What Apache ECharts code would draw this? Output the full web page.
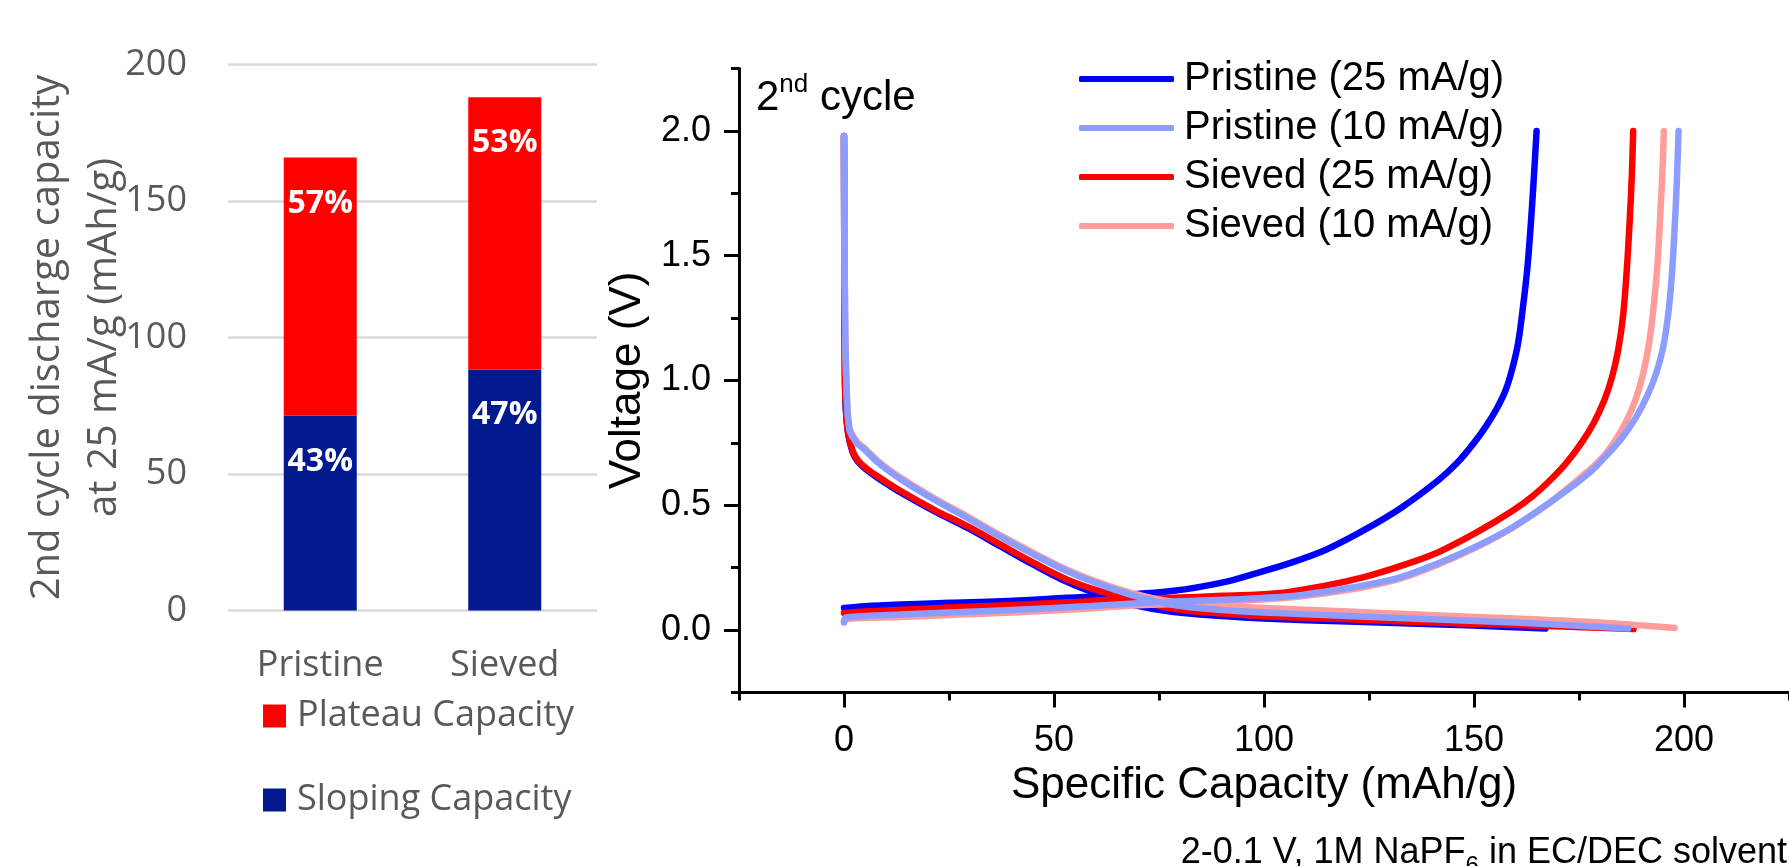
<!DOCTYPE html>
<html>
<head>
<meta charset="utf-8">
<title>Discharge capacity and 2nd-cycle voltage profiles</title>
<script src="https://cdn.jsdelivr.net/npm/echarts@6/dist/echarts.min.js"></script>
<style>
  html, body { margin: 0; padding: 0; background: #ffffff; }
  #chart { width: 1789px; height: 866px; }
</style>
</head>
<body>
<div id="chart"></div>
<script>
// ---- Bar panel: 2nd cycle discharge capacity at 25 mA/g ----
const barCategories = ['Pristine', 'Sieved'];
const totalCapacity = [166, 188];          // mAh/g
const slopingPercent = [43, 47];           // % of total
const plateauPercent = [57, 53];           // % of total
const capacityTicks = [0, 50, 100, 150, 200];

// ---- Voltage profiles: [specific capacity (mAh/g), voltage (V)] ----
const pristine25Discharge = [
  [0, 1.98], [0.05, 1.6], [0.15, 1.2], [0.3, 0.94], [0.9, 0.795], [2, 0.715], [3.3, 0.675],
  [5.5, 0.64], [8, 0.61], [13.6, 0.55], [21.5, 0.476], [29.4, 0.409], [37.3, 0.335],
  [45.2, 0.261], [53.2, 0.192], [61.1, 0.14], [69, 0.1], [78.5, 0.072], [90, 0.056],
  [100, 0.046], [120, 0.034], [135, 0.026], [150, 0.018], [167, 0.006]
];
const pristine25Charge = [
  [0, 0.088], [5, 0.095], [13.6, 0.102], [25, 0.109], [37.3, 0.115], [53.2, 0.129],
  [65, 0.139], [78.5, 0.157], [90, 0.19], [97.2, 0.223], [106.1, 0.268], [114.9, 0.323],
  [123.8, 0.4], [132.6, 0.489], [141.5, 0.6], [146, 0.67], [150, 0.75], [153, 0.82],
  [155.5, 0.89], [157.5, 0.96], [159, 1.04], [160.5, 1.15], [161.7, 1.3], [162.7, 1.45],
  [163.5, 1.62], [164.2, 1.8], [164.9, 2.0]
];
const sieved25Discharge = [
  [0, 1.98], [0.05, 1.6], [0.15, 1.2], [0.3, 0.95], [0.9, 0.8], [2, 0.72], [3.3, 0.68],
  [5.5, 0.645], [8, 0.616], [13.6, 0.556], [21.5, 0.482], [29.4, 0.416], [37.3, 0.342],
  [45.2, 0.269], [53.2, 0.202], [61.1, 0.155], [69, 0.122], [78.5, 0.085], [90, 0.066],
  [100, 0.055], [120, 0.043], [135, 0.033], [160, 0.02], [188, 0.004]
];
const sieved25Charge = [
  [0, 0.068], [5, 0.074], [13.6, 0.081], [25, 0.09], [37.3, 0.098], [53.2, 0.111],
  [65, 0.122], [78.5, 0.129], [90, 0.137], [102.5, 0.146], [114.9, 0.179], [123.8, 0.212],
  [132.6, 0.257], [141.5, 0.312], [150.4, 0.389], [159.2, 0.478], [164, 0.537], [168, 0.598],
  [172, 0.67], [175.5, 0.748], [178.5, 0.83], [181, 0.92], [182.8, 1.01], [184.3, 1.12],
  [185.5, 1.26], [186.4, 1.45], [187.1, 1.65], [187.6, 1.83], [187.9, 2.0]
];
const pristine10Discharge = [
  [0, 1.98], [0.1, 1.6], [0.3, 1.2], [0.6, 0.98], [1.3, 0.803], [3, 0.75], [4.9, 0.723],
  [8.5, 0.665], [13.6, 0.603], [21.5, 0.522], [29.4, 0.449], [37.3, 0.373], [45.2, 0.302],
  [53.2, 0.235], [61.1, 0.182], [69, 0.138], [78.5, 0.1], [90, 0.08], [100, 0.07],
  [120, 0.056], [135, 0.046], [160, 0.03], [186.7, 0.006]
];
const pristine10Charge = [
  [0, 0.03], [0.5, 0.05], [13.6, 0.062], [25, 0.07], [37.3, 0.078], [53.2, 0.091],
  [69, 0.106], [80, 0.115], [92, 0.122], [106.1, 0.135], [115, 0.155], [123.8, 0.179],
  [132.6, 0.212], [141.5, 0.268], [150.4, 0.334], [159.2, 0.412], [168.1, 0.511],
  [176.9, 0.622], [181, 0.69], [185, 0.765], [188.5, 0.85], [191.3, 0.94], [193.4, 1.03],
  [195, 1.13], [196.2, 1.26], [197.1, 1.42], [197.8, 1.62], [198.3, 1.8], [198.7, 2.0]
];
const sieved10Discharge = [
  [0, 1.98], [0.1, 1.6], [0.3, 1.2], [0.6, 0.985], [1.3, 0.81], [3, 0.757], [4.9, 0.729],
  [8.5, 0.671], [13.6, 0.609], [21.5, 0.528], [29.4, 0.455], [37.3, 0.379], [45.2, 0.308],
  [53.2, 0.241], [61.1, 0.188], [69, 0.146], [78.5, 0.112], [90, 0.097], [100, 0.088],
  [120, 0.074], [135, 0.063], [160, 0.046], [180, 0.03], [197.8, 0.008]
];
const sieved10Charge = [
  [0, 0.035], [1, 0.045], [13.6, 0.052], [25, 0.06], [37.3, 0.068], [53.2, 0.081],
  [69, 0.098], [80, 0.105], [92, 0.115], [106.1, 0.13], [115, 0.148], [123.8, 0.172],
  [132.6, 0.207], [141.5, 0.263], [150.4, 0.33], [159.2, 0.41], [168.1, 0.512],
  [176.9, 0.633], [181, 0.7], [184, 0.77], [186.5, 0.845], [188.6, 0.93], [190.3, 1.03],
  [191.7, 1.15], [192.8, 1.3], [193.7, 1.47], [194.4, 1.68], [194.9, 1.85], [195.2, 2.0]
];
const capacityMajorTicks = [0, 50, 100, 150, 200];
const capacityMinorTicks = [-25, 25, 75, 125, 175, 225];
const voltageMajorTicks = [0, 0.5, 1.0, 1.5, 2.0];
const voltageMinorTicks = [-0.25, 0.25, 0.75, 1.25, 1.75, 2.25];

const profileNames = ['Pristine (25 mA/g)', 'Pristine (10 mA/g)', 'Sieved (25 mA/g)', 'Sieved (10 mA/g)'];

// segment heights from total capacity and share
const slopingValues = totalCapacity.map((t, i) => t * slopingPercent[i] / 100);
const plateauValues = totalCapacity.map((t, i) => t * plateauPercent[i] / 100);

const BAR_FONT = '"Open Sans", sans-serif';
const LINE_FONT = '"Liberation Sans", Arial, sans-serif';
const GREY = '#595959';
const TICK_STYLE = { color: '#000000', width: 3 };

const chart = echarts.init(document.getElementById('chart'), null, { renderer: 'canvas' });

function barLabel(pcts) {
  return {
    show: true,
    position: 'insideTop',
    distance: 30,
    color: '#ffffff',
    fontFamily: BAR_FONT,
    fontWeight: 'bold',
    fontSize: 32,
    formatter: (p) => pcts[p.dataIndex] + '%'
  };
}

function profile(name, data, color) {
  return {
    name: name,
    type: 'line',
    xAxisIndex: 1,
    yAxisIndex: 1,
    data: data,
    symbol: 'none',
    smooth: 0.35,
    lineStyle: { color: color, width: 6.5, cap: 'round', join: 'round' },
    itemStyle: { color: color },
    emphasis: { disabled: true }
  };
}

// tick-only axes laid over the profile grid (no line, no labels)
function tickAxis(position, min, max, values, length) {
  return {
    type: 'value', gridIndex: 1, position: position, offset: 0, min: min, max: max,
    axisLine: { show: false, onZero: false },
    axisTick: { show: true, inside: false, customValues: values, length: length, lineStyle: TICK_STYLE },
    axisLabel: { show: false },
    splitLine: { show: false }
  };
}

const option = {
  animation: false,
  backgroundColor: '#ffffff',
  grid: [
    { left: 228, top: 64.6, width: 369, height: 546 },
    { left: 739, top: 68.6, width: 1052, height: 623.8 }
  ],
  legend: [
    {
      data: ['Plateau Capacity'],
      left: 263, top: 696, padding: 0,
      icon: 'rect', itemWidth: 23, itemHeight: 23,
      textStyle: { fontFamily: BAR_FONT, fontSize: 36, color: GREY, lineHeight: 40, padding: [0, 0, 0, 6] }
    },
    {
      data: ['Sloping Capacity'],
      left: 263, top: 780, padding: 0,
      icon: 'rect', itemWidth: 23, itemHeight: 23,
      textStyle: { fontFamily: BAR_FONT, fontSize: 36, color: GREY, lineHeight: 40, padding: [0, 0, 0, 6] }
    },
    {
      data: profileNames,
      orient: 'vertical',
      left: 1079, top: 57, padding: 0,
      icon: 'roundRect', itemWidth: 95, itemHeight: 6, itemGap: 5,
      textStyle: { fontFamily: LINE_FONT, fontSize: 40, color: '#000000', lineHeight: 44, padding: [0, 0, 0, 5] }
    }
  ],
  xAxis: [
    {
      type: 'category', gridIndex: 0, data: barCategories,
      axisLine: { show: false }, axisTick: { show: false },
      axisLabel: { fontFamily: BAR_FONT, fontSize: 36, color: GREY, margin: 37 }
    },
    {
      type: 'value', gridIndex: 1, position: 'bottom', min: -25, max: 225,
      name: 'Specific Capacity (mAh/g)', nameLocation: 'middle', nameGap: 51,
      nameTextStyle: { fontFamily: LINE_FONT, fontSize: 44, color: '#000000' },
      axisLine: { show: true, onZero: false, lineStyle: { color: '#000000', width: 3 } },
      axisTick: { show: false },
      axisLabel: { customValues: capacityMajorTicks, fontFamily: LINE_FONT, fontSize: 36, color: '#000000', margin: 31 },
      splitLine: { show: false }
    },
    tickAxis('bottom', -25, 225, capacityMajorTicks, 15),
    tickAxis('bottom', -25, 225, capacityMinorTicks, 8)
  ],
  yAxis: [
    {
      type: 'value', gridIndex: 0, min: capacityTicks[0], max: capacityTicks[capacityTicks.length - 1], interval: 50,
      axisLine: { show: false }, axisTick: { show: false },
      axisLabel: { fontFamily: BAR_FONT, fontSize: 36, color: GREY, margin: 41 },
      splitLine: { lineStyle: { color: '#d9d9d9', width: 2.5 } }
    },
    {
      type: 'value', gridIndex: 1, position: 'left', min: -0.25, max: 2.25,
      name: 'Voltage (V)', nameLocation: 'middle', nameGap: 84, nameRotate: 90,
      nameTextStyle: { fontFamily: LINE_FONT, fontSize: 44, color: '#000000' },
      axisLine: { show: true, onZero: false, lineStyle: { color: '#000000', width: 3 } },
      axisTick: { show: false },
      axisLabel: { customValues: voltageMajorTicks, fontFamily: LINE_FONT, fontSize: 36, color: '#000000', margin: 28,
        formatter: (v) => v.toFixed(1) },
      splitLine: { show: false }
    },
    tickAxis('left', -0.25, 2.25, voltageMajorTicks, 15),
    tickAxis('left', -0.25, 2.25, voltageMinorTicks, 8)
  ],
  series: [
    {
      name: 'Sloping Capacity', type: 'bar', stack: 'capacity',
      xAxisIndex: 0, yAxisIndex: 0, barWidth: 73,
      data: slopingValues,
      itemStyle: { color: '#02198f' },
      label: barLabel(slopingPercent)
    },
    {
      name: 'Plateau Capacity', type: 'bar', stack: 'capacity',
      xAxisIndex: 0, yAxisIndex: 0, barWidth: 73,
      data: plateauValues,
      itemStyle: { color: '#ff0000' },
      label: barLabel(plateauPercent)
    },
    profile(profileNames[0], pristine25Discharge, '#0000ff'),
    profile(profileNames[0], pristine25Charge, '#0000ff'),
    profile(profileNames[2], sieved25Discharge, '#ff0000'),
    profile(profileNames[2], sieved25Charge, '#ff0000'),
    profile(profileNames[3], sieved10Discharge, '#ff9c9c'),
    profile(profileNames[3], sieved10Charge, '#ff9c9c'),
    profile(profileNames[1], pristine10Discharge, '#8c9cff'),
    profile(profileNames[1], pristine10Charge, '#8c9cff')
  ],
  graphic: [
    {
      type: 'text', x: 76.5, y: 337.5, rotation: Math.PI / 2,
      style: {
        text: '2nd cycle discharge capacity\nat 25 mA/g (mAh/g)',
        fontFamily: BAR_FONT, fontSize: 40, lineHeight: 57,
        fill: GREY, align: 'center', verticalAlign: 'middle'
      }
    },
    {
      type: 'text', x: 756, y: 72,
      style: {
        text: '{b|2}{s|nd}{b| cycle}',
        fill: '#000000', align: 'left', verticalAlign: 'top',
        rich: {
          b: { fontFamily: LINE_FONT, fontSize: 42, lineHeight: 52, fill: '#000000' },
          s: { fontFamily: LINE_FONT, fontSize: 26, lineHeight: 26, verticalAlign: 'top', fill: '#000000' }
        }
      }
    },
    {
      type: 'text', x: 1787, y: 835,
      style: {
        text: '{a|2-0.1 V, 1M NaPF}{s|6}{a| in EC/DEC solvent}',
        fill: '#000000', align: 'right', verticalAlign: 'top',
        rich: {
          a: { fontFamily: LINE_FONT, fontSize: 36, lineHeight: 36, verticalAlign: 'top', fill: '#000000' },
          s: { fontFamily: LINE_FONT, fontSize: 24, lineHeight: 43, verticalAlign: 'bottom', fill: '#000000' }
        }
      }
    }
  ]
};

chart.setOption(option);
</script>
</body>
</html>
